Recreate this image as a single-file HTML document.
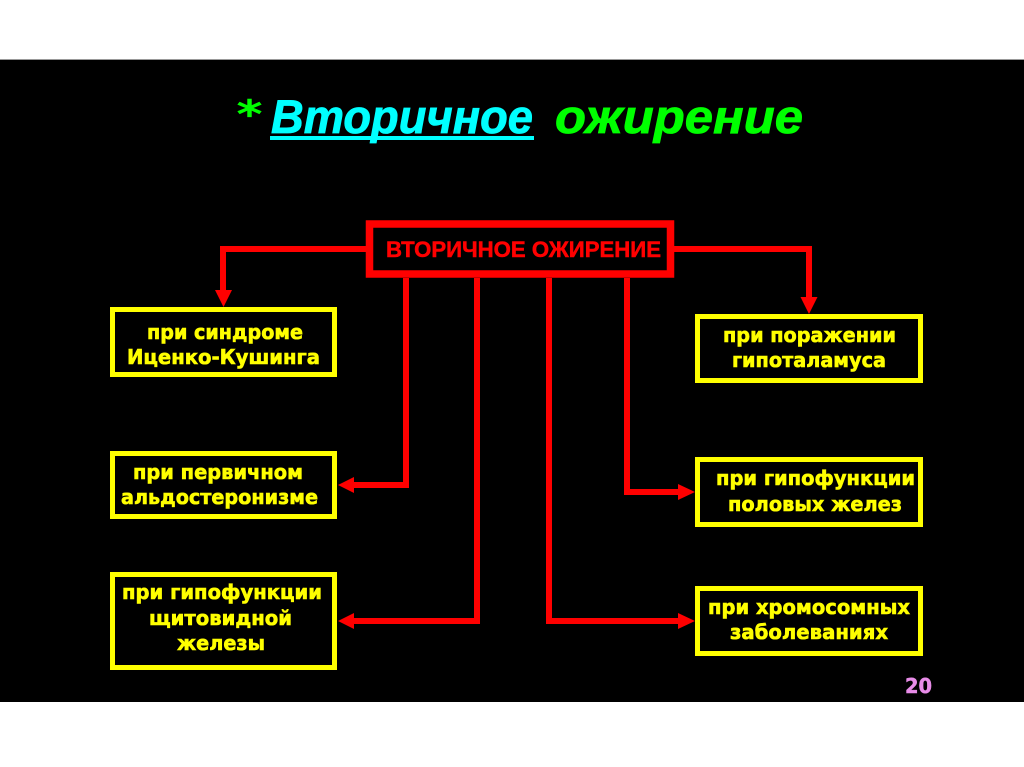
<!DOCTYPE html>
<html><head><meta charset="utf-8"><style>
html,body{margin:0;padding:0;background:#fff;width:1024px;height:767px;overflow:hidden}
svg{display:block}
.t{font-family:"DejaVu Sans",sans-serif;font-weight:bold;font-size:20px;fill:#ffff00;stroke:#ffff00;stroke-width:.6px}
.h{font-family:"Liberation Sans",sans-serif;font-weight:bold;font-style:italic;font-size:47px;stroke-width:.8px}
</style></head><body>
<svg width="1024" height="767" viewBox="0 0 1024 767" xmlns="http://www.w3.org/2000/svg">
<rect width="1024" height="767" fill="#fff"/>
<rect x="0" y="59" width="1024" height="1" fill="#999"/>
<rect x="0" y="60" width="1024" height="642" fill="#000"/>

<text x="237" y="127" font-family="DejaVu Sans, sans-serif" font-style="italic" font-size="37" fill="#00ff00" stroke="#00ff00" stroke-width="1.2" textLength="25" lengthAdjust="spacingAndGlyphs">*</text>
<text class="h" x="271" y="133" fill="#00ffff" stroke="#00ffff" textLength="262" lengthAdjust="spacingAndGlyphs">Вторичное</text>
<rect x="270" y="136" width="264" height="4" fill="#00ffff"/>
<text class="h" x="555" y="133" fill="#00ff00" stroke="#00ff00" textLength="248" lengthAdjust="spacingAndGlyphs">ожирение</text>

<g fill="none" stroke="#ff0000" stroke-width="6">
<path d="M366 249H223V293"/>
<path d="M674 249H809V300"/>
<path d="M406 278V485H350"/>
<path d="M477 278V621H350"/>
<path d="M549 278V621H682"/>
<path d="M627 278V492H682"/>
</g>
<g fill="#ff0000">
<path d="M215 290H232L223.500 307Z"/>
<path d="M800.500 297H817.500L809 314Z"/>
<path d="M338 485L354 477V493Z"/>
<path d="M338 621L354 613V629Z"/>
<path d="M695 492L678 484V500Z"/>
<path d="M695 621L678 613V629Z"/>
</g>

<rect x="369.500" y="224" width="301" height="50" fill="#000" stroke="#ff0000" stroke-width="7.500"/>
<text x="386" y="257" font-family="Liberation Sans, sans-serif" font-weight="bold" font-size="22" fill="#ff0000" stroke="#ff0000" stroke-width=".5" textLength="275" lengthAdjust="spacingAndGlyphs">ВТОРИЧНОЕ ОЖИРЕНИЕ</text>

<g fill="none" stroke="#ffff00" stroke-width="5">
<rect x="112.500" y="309.500" width="222" height="65"/>
<rect x="112.500" y="453.500" width="222" height="63"/>
<rect x="112.500" y="574.500" width="222" height="93"/>
<rect x="697.500" y="316.500" width="223" height="64"/>
<rect x="697.500" y="459.500" width="223" height="65"/>
<rect x="697.500" y="588.500" width="223" height="65"/>
</g>

<text class="t" x="147" y="339" textLength="156" lengthAdjust="spacingAndGlyphs">при синдроме</text>
<text class="t" x="127" y="364" textLength="193" lengthAdjust="spacingAndGlyphs">Иценко-Кушинга</text>
<text class="t" x="133" y="479" textLength="170" lengthAdjust="spacingAndGlyphs">при первичном</text>
<text class="t" x="121" y="504" textLength="197" lengthAdjust="spacingAndGlyphs">альдостеронизме</text>
<text class="t" x="122" y="599" textLength="200" lengthAdjust="spacingAndGlyphs">при гипофункции</text>
<text class="t" x="149" y="625" textLength="143" lengthAdjust="spacingAndGlyphs">щитовидной</text>
<text class="t" x="177" y="650" textLength="88" lengthAdjust="spacingAndGlyphs">железы</text>

<text class="t" x="723" y="342" textLength="173" lengthAdjust="spacingAndGlyphs">при поражении</text>
<text class="t" x="732" y="367" textLength="154" lengthAdjust="spacingAndGlyphs">гипоталамуса</text>
<text class="t" x="716" y="485" textLength="199" lengthAdjust="spacingAndGlyphs">при гипофункции</text>
<text class="t" x="728" y="511" textLength="174" lengthAdjust="spacingAndGlyphs">половых желез</text>
<text class="t" x="708" y="614" textLength="202" lengthAdjust="spacingAndGlyphs">при хромосомных</text>
<text class="t" x="730" y="639" textLength="158" lengthAdjust="spacingAndGlyphs">заболеваниях</text>

<text x="905" y="693" font-family="DejaVu Sans, sans-serif" font-weight="bold" font-size="20" fill="#e88ce8" stroke="#e88ce8" stroke-width=".5" textLength="27" lengthAdjust="spacingAndGlyphs">20</text>
</svg>
</body></html>
